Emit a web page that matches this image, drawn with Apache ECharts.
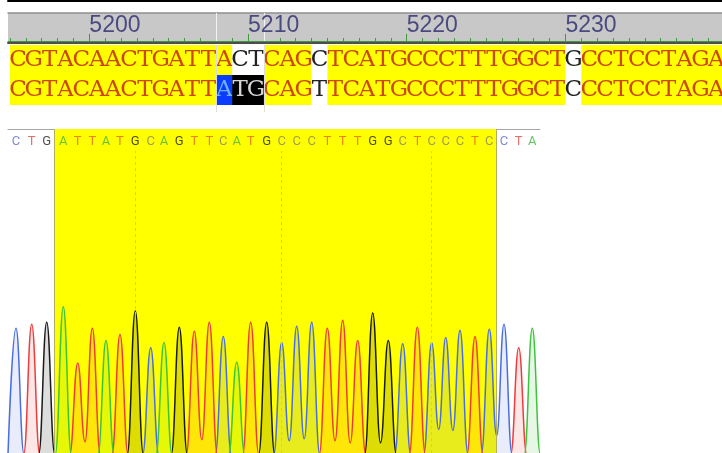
<!DOCTYPE html>
<html><head><meta charset="utf-8">
<script src="https://cdn.jsdelivr.net/npm/echarts@6/dist/echarts.min.js"></script>
<style>html,body{margin:0;padding:0;background:#fff;overflow:hidden}#c{width:722px;height:453px}</style>
</head><body><div id="c"></div><script>
// ---------------- data ----------------
const refSeq  = 'CGTACAACTGATTACTCAGCTCATGCCCTTTGGCTGCCTCCTAGA';
const readSeq = 'CGTACAACTGATTATGCAGTTCATGCCCTTTGGCTCCCTCCTAGA';
const firstPosition = 5195;
const rulerLabels = [5200, 5210, 5220, 5230];
const refMismatch = [14, 15, 19, 35];
const readMismatch = [19, 35];
const readEdited = [14, 15];
const readCursor = [13];
const selectionBounds = [5208, 5211];

const baseCalls = 'CTGATTATGCAGTTCATGCCCTTTGGCTCCCTCCTA';
const peakScan = [8, 23.7, 38.7, 55.3, 69.7, 84.3, 98, 112, 127.3, 142.7, 156, 171.3, 186.3, 201.3, 215.3, 228.7, 242.7, 258.7, 273.7, 288.7, 303.7, 319.3, 334.7, 349.7, 364.7, 380.3, 394.7, 409.3, 423.7, 437.7, 452, 467, 481.3, 496, 510.7, 524.3];
const peakHeight = [123, 127, 129, 144, 89, 123, 111, 117, 140, 104, 109, 124, 120, 129, 115, 90, 129, 129, 109, 125, 129, 123, 131, 111, 138, 111, 108, 124, 109, 114, 121, 115, 122, 127, 104, 123];
const troughAfter = {4: 12, 12: 14, 18: 13, 19: 15, 21: 13, 22: 11, 24: 11, 28: 24, 29: 23, 32: 18};
const trimmedRange = [46, 488];
const dividerBases = [8, 18, 28];
const scanRange = [0, 532];
const signalRange = [1, 318];
const letterLevel = 305.3;

// ---------------- layout / style ----------------
const CELL = 15.87, SEQ_LEFT_PX = 10, AREA_LEFT = 8, AREA_W = 714, ROW_H = 30;
const posMin = firstPosition - (SEQ_LEFT_PX - AREA_LEFT) / CELL;
const posMax = posMin + AREA_W / CELL;
const allPositions = [];
for (let p = Math.ceil(posMin); p <= posMax; p++) allPositions.push(p);

const baseColor = {A: '#3cc43c', C: '#4a6ee0', G: '#1a1a1a', T: '#ee3c3c'};
const letterColorOut = {A: '#3cb83c', C: '#5a6ad0', G: '#222222', T: '#e04848'};
const letterColorIn = {A: '#44b444', C: '#84846c', G: '#222222', T: '#e8641c'};

const cellStyles = {
  match: {bg: '#ffff00', color: '#cc4800', glow: 'rgba(255,140,0,0.9)'},
  white: {bg: '#ffffff', color: '#222222'},
  black: {bg: '#000000', color: '#d6d6d6'},
  cursor: {bg: '#0a3cff', color: '#6ab0ff'}
};
function cellKind(row, i) {
  if (row === 0) return refMismatch.includes(i) ? 'white' : 'match';
  if (readCursor.includes(i)) return 'cursor';
  if (readEdited.includes(i)) return 'black';
  if (readMismatch.includes(i)) return 'white';
  return 'match';
}
const cellData = [];
for (let i = 0; i < refSeq.length; i++) {
  cellData.push([firstPosition + i, 0, i]);
  cellData.push([firstPosition + i, 1, i]);
}
function renderCell(params, api) {
  const pos = api.value(0), row = api.value(1), i = api.value(2);
  const letter = (row === 0 ? refSeq : readSeq)[i];
  const st = cellStyles[cellKind(row, i)];
  const a = api.coord([pos, row * ROW_H]);
  const b = api.coord([pos + 1, (row + 1) * ROW_H]);
  const style = {text: letter, fill: st.color, font: '23px "DejaVu Serif"', align: 'center', verticalAlign: 'middle'};
  if (st.glow) { style.shadowBlur = 2; style.shadowColor = st.glow; }
  return {type: 'group', children: [
    {type: 'rect', shape: {x: a[0], y: a[1], width: b[0] - a[0] + 0.6, height: b[1] - a[1]}, style: {fill: st.bg}},
    {type: 'text', x: (a[0] + b[0]) / 2, y: (a[1] + b[1]) / 2, style: style}
  ]};
}

const HW = 8;
function tracePoints(base) {
  const pts = [[scanRange[0], 0]];
  let prev = -5;
  for (let i = 0; i < baseCalls.length; i++) {
    if (baseCalls[i] !== base) continue;
    const x = peakScan[i], h = peakHeight[i];
    if (prev === i - 1 && troughAfter[prev] !== undefined) {
      pts.push([(peakScan[prev] + x) / 2, troughAfter[prev]]);
    } else {
      if (prev >= 0) pts.push([peakScan[prev] + HW, 0]);
      pts.push([x - HW, 0]);
    }
    pts.push([x, h]);
    prev = i;
  }
  pts.push([peakScan[prev] + HW, 0]);
  pts.push([scanRange[1], 0]);
  return pts;
}
const traceOrder = ['C', 'T', 'G', 'A'];
const traceSeries = traceOrder.map(b => ({
  type: 'line', name: b, xAxisIndex: 6, yAxisIndex: 2, data: tracePoints(b),
  showSymbol: false, smooth: 0.45, smoothMonotone: 'x', silent: true, clip: true,
  lineStyle: {color: baseColor[b], width: 1.5},
  areaStyle: {color: baseColor[b], opacity: b === 'G' ? 0.15 : 0.13, origin: 'start'},
  z: 3
}));

const letterData = baseCalls.split('').map((b, i) => {
  const inside = peakScan[i] > trimmedRange[0] && peakScan[i] < trimmedRange[1];
  return {name: b, value: [peakScan[i], letterLevel], label: {color: (inside ? letterColorIn : letterColorOut)[b]}};
});

const topAxis = {type: 'value', min: posMin, max: posMax, splitLine: {show: false},
  axisLabel: {show: false}, axisTick: {show: false}, axisLine: {show: false, onZero: false}};
function ax(extra) {
  const o = JSON.parse(JSON.stringify(topAxis));
  return Object.assign(o, extra);
}

const option = {
  animation: false,
  backgroundColor: '#ffffff',
  grid: [
    {left: AREA_LEFT, right: 0, top: 13, height: 30, show: true, backgroundColor: '#c8c8c8', borderWidth: 0},
    {left: AREA_LEFT, right: 0, top: 45, height: 67, show: false},
    {left: AREA_LEFT, right: 182, top: 129, bottom: 0, show: false}
  ],
  xAxis: [
    ax({gridIndex: 0, position: 'top', offset: 12, axisLine: {show: true, onZero: false, lineStyle: {color: '#000000', width: 2}}}),
    ax({gridIndex: 0, position: 'top', offset: 0, axisLine: {show: true, onZero: false, lineStyle: {color: '#8e8e8e', width: 1.5}}}),
    ax({gridIndex: 0, position: 'bottom', offset: 0, axisLine: {show: true, onZero: false, lineStyle: {color: '#4e4e4e', width: 2}}}),
    ax({gridIndex: 0, position: 'bottom', offset: -2,
        axisLine: {show: true, onZero: false, lineStyle: {color: '#3d9a3d', width: 1}},
        axisTick: {show: true, inside: true, length: 3, customValues: allPositions, lineStyle: {color: '#3d9a3d', width: 1}}}),
    ax({gridIndex: 0, position: 'bottom', offset: -2,
        axisTick: {show: true, inside: true, length: 7, customValues: rulerLabels, lineStyle: {color: '#3d9a3d', width: 1}},
        axisLabel: {show: true, inside: true, customValues: rulerLabels, align: 'left', margin: 4,
          color: '#4a4a80', fontSize: 23, fontFamily: 'Liberation Sans', formatter: v => String(v)}}),
    ax({gridIndex: 1, position: 'top'}),
    {type: 'value', gridIndex: 2, min: scanRange[0], max: scanRange[1], position: 'top', splitLine: {show: false},
     axisLabel: {show: false}, axisTick: {show: false}, axisLine: {show: true, onZero: false, lineStyle: {color: '#a4a4a4', width: 1}}},
    ax({gridIndex: 0, position: 'bottom', offset: -2,
        axisTick: {show: true, inside: true, length: 28, customValues: selectionBounds, lineStyle: {color: '#f4f4f4', width: 1}}})
  ],
  yAxis: [
    {type: 'value', gridIndex: 0, min: 0, max: 1, show: false},
    {type: 'value', gridIndex: 1, min: 0, max: 67, inverse: true, show: false},
    {type: 'value', gridIndex: 2, min: signalRange[0], max: signalRange[1], show: false}
  ],
  series: [
    {type: 'custom', xAxisIndex: 5, yAxisIndex: 1, data: cellData, renderItem: renderCell,
     encode: {x: 0, y: 1}, clip: true, silent: true,
     markLine: {silent: true, symbol: 'none', label: {show: false},
       lineStyle: {color: '#dcdcdc', width: 1, type: 'solid'},
       data: selectionBounds.map(v => ({xAxis: v}))}},
    ...traceSeries,
    {type: 'scatter', xAxisIndex: 6, yAxisIndex: 2, data: letterData, symbolSize: 0, silent: true, z: 4,
     label: {show: true, formatter: '{b}', position: 'inside', fontSize: 13, fontFamily: 'Roboto'},
     markArea: {silent: true, itemStyle: {color: '#ffff00', borderWidth: 0},
       data: [[{xAxis: trimmedRange[0]}, {xAxis: trimmedRange[1]}]]},
     markLine: {silent: true, symbol: 'none', label: {show: false},
       lineStyle: {color: '#c4c4a8', width: 1, type: [3, 3]},
       data: dividerBases.map(i => [{coord: [peakScan[i], signalRange[0]]}, {coord: [peakScan[i], letterLevel - 9]}])
         .concat(trimmedRange.map(v => [
           {coord: [v, signalRange[0]], lineStyle: {color: '#b0b060', type: 'solid'}},
           {coord: [v, signalRange[1]]}]))}}
  ]
};
echarts.init(document.getElementById('c')).setOption(option);
</script></body></html>
